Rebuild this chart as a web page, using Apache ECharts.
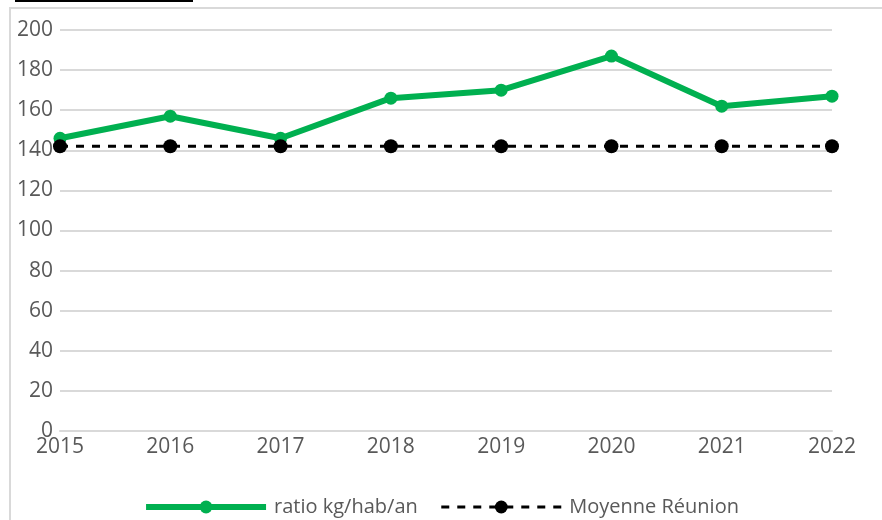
<!DOCTYPE html>
<html>
<head>
<meta charset="utf-8">
<script src="https://cdn.jsdelivr.net/npm/echarts@6/dist/echarts.min.js"></script>
<style>
  html, body { margin: 0; padding: 0; background: #fff; }
  #chart { width: 882px; height: 520px; }
</style>
</head>
<body>
<div id="chart"></div>
<script>
// annees et valeurs
const years = ['2015', '2016', '2017', '2018', '2019', '2020', '2021', '2022'];
const ratio = [146, 157, 146, 166, 170, 187, 162, 167];
const moyenne = [142, 142, 142, 142, 142, 142, 142, 142];

const labelFont = '"Open Sans", "Liberation Sans", sans-serif';
const grey = '#595959';

const chart = echarts.init(document.getElementById('chart'));

chart.setOption({
  backgroundColor: '#fff',
  animation: false,
  textStyle: { fontFamily: labelFont },
  // cadre et soulignement du texte coupe en haut
  graphic: [
    { type: 'rect', shape: { x: 9, y: 7, width: 880, height: 2 }, style: { fill: '#d9d9d9' } },
    { type: 'rect', shape: { x: 9, y: 7, width: 2, height: 520 }, style: { fill: '#d9d9d9' } },
    { type: 'rect', shape: { x: 15, y: 0, width: 178, height: 2 }, style: { fill: '#000' } }
  ],
  grid: { left: 60, right: 50, top: 30, bottom: 89 },
  legend: {
    top: 492,
    left: 'center',
    itemWidth: 120,
    itemHeight: 16,
    itemGap: 22,
    textStyle: { color: grey, fontSize: 20, fontFamily: labelFont, padding: [0, 0, 0, 3] },
    data: [
      { name: 'ratio kg/hab/an', lineStyle: { width: 6, color: '#00B050' } },
      { name: 'Moyenne Réunion', lineStyle: { width: 3, color: '#000', type: [8, 8] } }
    ]
  },
  xAxis: {
    type: 'category',
    data: years,
    boundaryGap: false,
    axisLine: { show: true, lineStyle: { color: '#d9d9d9', width: 2 } },
    axisTick: { show: false },
    axisLabel: { color: grey, fontSize: 21, margin: 6 }
  },
  yAxis: {
    type: 'value',
    min: 0,
    max: 200,
    interval: 20,
    axisLine: { show: false },
    axisTick: { show: false },
    axisLabel: { color: grey, fontSize: 21, margin: 7 },
    splitLine: { lineStyle: { color: '#d9d9d9', width: 2 } }
  },
  series: [
    {
      name: 'ratio kg/hab/an',
      type: 'line',
      data: ratio,
      symbol: 'circle',
      symbolSize: 13,
      lineStyle: { color: '#00B050', width: 6 },
      itemStyle: { color: '#00B050' }
    },
    {
      name: 'Moyenne Réunion',
      type: 'line',
      data: moyenne,
      symbol: 'circle',
      symbolSize: 14,
      lineStyle: { color: '#000', width: 3, type: [8, 8] },
      itemStyle: { color: '#000' }
    }
  ]
});
</script>
</body>
</html>
